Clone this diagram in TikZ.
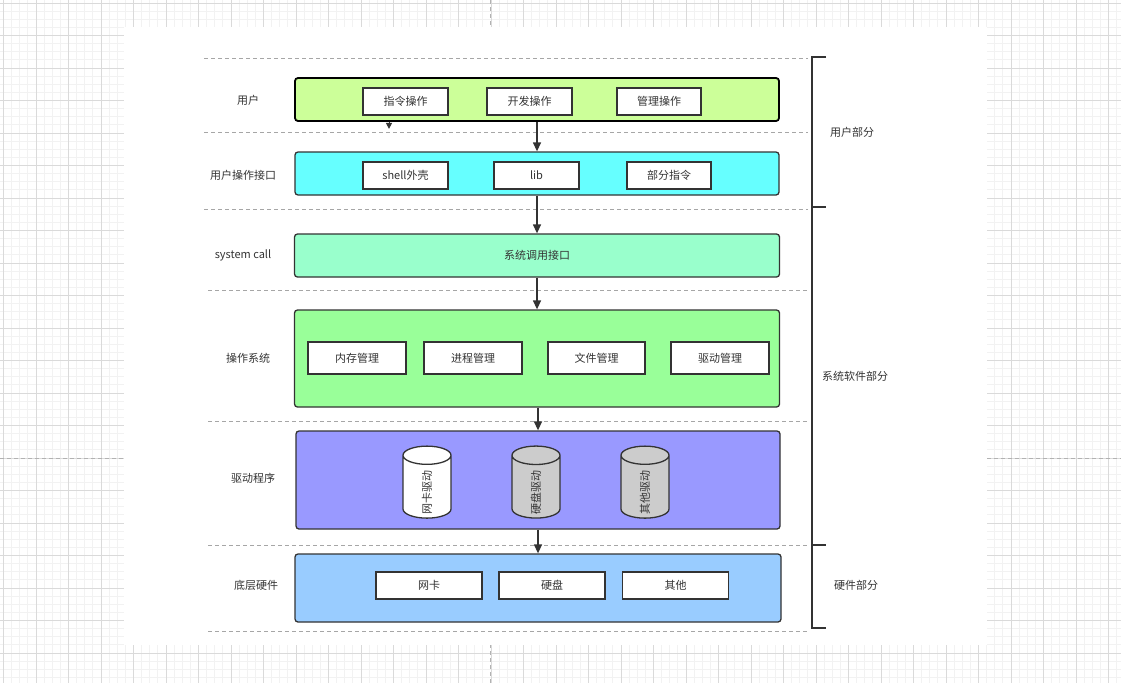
\documentclass[tikz,border=0pt]{standalone}
\usepackage{fontspec}
\setmainfont{Noto Sans CJK SC}
\usetikzlibrary{shapes.geometric,arrows.meta,calc}
\definecolor{txt}{HTML}{333333}
\definecolor{edge}{HTML}{333333}
\definecolor{cUser}{HTML}{CCFF99}
\definecolor{cIface}{HTML}{66FFFF}
\definecolor{cSys}{HTML}{99FFCC}
\definecolor{cOS}{HTML}{99FF99}
\definecolor{cDrv}{HTML}{9999FF}
\definecolor{cHw}{HTML}{99CCFF}
\definecolor{cylgray}{HTML}{CCCCCC}
\definecolor{gmajor}{HTML}{DADADA}
\definecolor{gminor}{HTML}{F2F2F2}
\newcommand{\cyltext}[1]{\makebox[0pt]{\kern-10pt #1}}
\tikzset{
  layer/.style={draw=edge, line width=1.3pt, rounded corners=3pt, inner sep=0pt},
  inner/.style={draw=edge, line width=1.4pt, fill=white, inner sep=0pt, font=\fontsize{11pt}{13pt}\selectfont, text=txt},
  lab/.style={font=\fontsize{11pt}{13pt}\selectfont, text=txt, inner sep=0pt},
  sep/.style={draw=gray!70, line width=0.9pt, dash pattern=on 4pt off 3pt},
  arr/.style={draw=edge, line width=1.3pt, -{Triangle[length=9pt,width=8pt]}},
  cyl/.style={cylinder, shape border rotate=0, rotate=90, aspect=1.8, draw=edge, line width=1.3pt,
     minimum width=48pt, minimum height=72pt, inner sep=0pt, font=\fontsize{11pt}{13pt}\selectfont, text=txt},
  brk/.style={draw=edge, line width=1.6pt}
}
\begin{document}
\begin{tikzpicture}[x=1pt,y=-1pt]
\useasboundingbox (0,0) rectangle (1121,683);
% background grid
\fill[white] (0,0) rectangle (1121,683);
\foreach \i in {0,...,138} {\draw[gminor, line width=0.8pt] ({3.5+\i*8.125},0) -- ({3.5+\i*8.125},683);}
\foreach \i in {0,...,84} {\draw[gminor, line width=0.8pt] (0,{3+\i*8.125}) -- (1121,{3+\i*8.125});}
\foreach \i in {0,...,34} {\draw[gmajor, line width=0.9pt] ({3.5+\i*32.5},0) -- ({3.5+\i*32.5},683);}
\foreach \i in {0,...,21} {\draw[gmajor, line width=0.9pt] (0,{3+\i*32.5}) -- (1121,{3+\i*32.5});}
\draw[gray!60, line width=0.9pt, dash pattern=on 4pt off 3pt] (490,0) -- (490,683);
\draw[gray!60, line width=0.9pt, dash pattern=on 4pt off 3pt] (0,458) -- (1121,458);
\fill[white] (124,27) rectangle (987,645);

% separators
\draw[sep] (204,58) -- (808,58);
\draw[sep] (204,132) -- (808,132);
\draw[sep] (204,209) -- (808,209);
\draw[sep] (208,290) -- (808,290);
\draw[sep] (208,421) -- (808,421);
\draw[sep] (208,545) -- (808,545);
\draw[sep] (208,631) -- (808,631);

% layers
\node[layer, fill=cUser, draw=black, line width=1.8pt, minimum width=484pt, minimum height=43pt] (user) at (537,99.5) {};
\node[layer, fill=cIface, minimum width=484pt, minimum height=43pt] (iface) at (537,173.5) {};
\node[layer, fill=cSys, minimum width=485pt, minimum height=43pt, lab] (sys) at (537,255.5) {系统调用接口};
\node[layer, fill=cOS, minimum width=485pt, minimum height=97pt] (os) at (537,358.5) {};
\node[layer, fill=cDrv, minimum width=484pt, minimum height=98pt] (drv) at (538,480) {};
\node[layer, fill=cHw, minimum width=486pt, minimum height=68pt] (hw) at (538,588) {};

% inner boxes
\node[inner, minimum width=85pt, minimum height=27pt] (u1) at (405.5,101.5) {指令操作};
\node[inner, minimum width=85pt, minimum height=27pt] (u2) at (529.5,101.5) {开发操作};
\node[inner, minimum width=84pt, minimum height=27pt] (u3) at (659,101.5) {管理操作};
\node[inner, minimum width=85pt, minimum height=27pt] (i1) at (405.5,175.5) {shell外壳};
\node[inner, minimum width=85pt, minimum height=27pt] (i2) at (536.5,175.5) {lib};
\node[inner, minimum width=84pt, minimum height=27pt] (i3) at (669,175.5) {部分指令};
\node[inner, minimum width=98pt, minimum height=32pt] (o1) at (357,358) {内存管理};
\node[inner, minimum width=98pt, minimum height=32pt] (o2) at (473,358) {进程管理};
\node[inner, minimum width=97pt, minimum height=32pt] (o3) at (596.5,358) {文件管理};
\node[inner, minimum width=98pt, minimum height=32pt] (o4) at (720,358) {驱动管理};
\node[cyl, fill=white] (d1) at (427,487) {\cyltext{网卡驱动}};
\node[cyl, fill=cylgray] (d2) at (536,487) {\cyltext{硬盘驱动}};
\node[cyl, fill=cylgray] (d3) at (645,487) {\cyltext{其他驱动}};
\node[inner, minimum width=106pt, minimum height=27pt] (h1) at (429,585.5) {网卡};
\node[inner, minimum width=106pt, minimum height=27pt] (h2) at (552,585.5) {硬盘};
\node[inner, minimum width=106pt, minimum height=27pt] (h3) at (675.5,585.5) {其他};

% left labels
\node[lab] (l1) at (248,100) {用户};
\node[lab] (l2) at (243,175) {用户操作接口};
\node[lab] (l3) at (243,255) {system call};
\node[lab] (l4) at (248,358) {操作系统};
\node[lab] (l5) at (253,478) {驱动程序};
\node[lab] (l6) at (256,585) {底层硬件};

% right labels
\node[lab] (r1) at (852,132) {用户部分};
\node[lab] (r2) at (855,376) {系统软件部分};
\node[lab] (r3) at (856,585) {硬件部分};

% bracket
\draw[brk] (826,57) -- (812,57) -- (812,628) -- (826,628);
\draw[brk] (812,207) -- (826,207);
\draw[brk] (812,545) -- (826,545);

% arrows
\draw[arr] (user.south -| 537,0) -- (iface.north -| 537,0);
\draw[arr] (iface.south -| 537,0) -- (sys.north -| 537,0);
\draw[arr] (sys.south -| 537,0) -- (os.north -| 537,0);
\draw[arr] (os.south -| 538,0) -- (drv.north -| 538,0);
\draw[arr] (drv.south -| 538,0) -- (hw.north -| 538,0);
\draw[draw=edge, line width=1pt, -{Triangle[length=6pt,width=6pt]}] (user.south -| 389,0) -- ++(0,7);
\end{tikzpicture}
\end{document}
